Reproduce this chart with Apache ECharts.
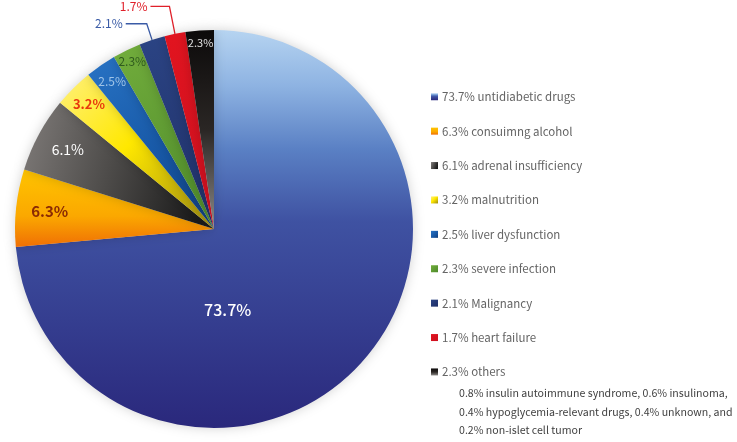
<!DOCTYPE html>
<html>
<head>
<meta charset="utf-8">
<script src="https://cdn.jsdelivr.net/npm/echarts@6/dist/echarts.min.js"></script>
<style>
html,body{margin:0;padding:0;background:#fff;}
#chart{width:737px;height:442px;}
</style>
</head>
<body>
<div id="chart"></div>
<script>
// ---- data ----
const causes = ['untidiabetic drugs','consuimng alcohol','adrenal insufficiency','malnutrition','liver dysfunction','severe infection','Malignancy','heart failure','others'];
const percents = [73.7, 6.3, 6.1, 3.2, 2.5, 2.3, 2.1, 1.7, 2.3];
const othersDetail = [
  '0.8% insulin autoimmune syndrome, 0.6% insulinoma,',
  '0.4% hypoglycemia-relevant drugs, 0.4% unknown, and',
  '0.2% non-islet cell tumor'
];

// ---- styles ----
const FONT = 'Noto Sans CJK JP';
function lg(x, y, x2, y2, stops) {
  return new echarts.graphic.LinearGradient(x, y, x2, y2, stops.map((c, i) => ({offset: c[0], color: c[1]})));
}
const sliceColors = [
  lg(0,0,0,1,[[0,'#b6d4f1'],[0.14,'#8eb3e2'],[0.3,'#5a80c4'],[0.48,'#3f52a2'],[1,'#2a287c']]),
  lg(0,0,0,1,[[0,'#ffc400'],[0.6,'#fba800'],[1,'#ef6f05']]),
  lg(0,0,1,0.4,[[0,'#807c7a'],[0.5,'#4e4c4a'],[1,'#1a1a1a']]),
  lg(0,0,1,1,[[0,'#fff07c'],[0.45,'#ffe800'],[1,'#9c8a10']]),
  lg(0,0,1,1,[[0,'#2873c4'],[0.6,'#1656a4'],[1,'#103c78']]),
  lg(0,0,1,1,[[0,'#72ad3c'],[1,'#4d8a2a']]),
  lg(0,0,1,1,[[0,'#2b4484'],[1,'#1f2f68']]),
  lg(0,0,1,1,[[0,'#e2141f'],[1,'#cc1020']]),
  lg(0,0,0,1,[[0,'#0c0a0a'],[0.5,'#2a2624'],[1,'#8c8a88']])
];
const labelColors = ['#ffffff','#8a2a04','#ffffff','#e8380d','#9fc4e8','#2f5a1e','#3a5ba6','#e0202a','#e0e0e0'];
const labelSizes = [16,15,14,13,12,12,12,12,11];
const labelWeights = ['500','bold','normal','bold','normal','normal','normal','normal','normal'];
const labelFrac = [null,0.83,0.835,0.89,0.90,0.935,null,null,0.937];
const labelShift = [[-62,12],null,null,null,null,null,null,null,null];
const outsideLine = [null,null,null,null,null,null,[17,21],[28,19],null];

const CX = 214, CY = 229, R = 199;

const chart = echarts.init(document.getElementById('chart'), null, {renderer:'canvas'});

const data = causes.map((c, i) => {
  const d = {
    name: c,
    value: percents[i],
    itemStyle: {color: sliceColors[i]},
    label: {
      color: labelColors[i],
      fontSize: labelSizes[i],
      fontWeight: labelWeights[i],
      fontFamily: FONT,
      position: outsideLine[i] ? 'outside' : 'inside'
    }
  };
  if (outsideLine[i]) {
    d.labelLine = {show: true, length: outsideLine[i][0], length2: outsideLine[i][1], smooth: false,
      lineStyle: {color: labelColors[i], width: 1.3}};
    d.label.distanceToLabelLine = 3;
  } else {
    d.labelLine = {show: false};
  }
  return d;
});

chart.setOption({
  animation: false,
  backgroundColor: '#ffffff',
  legend: {
    orient: 'vertical',
    left: 426,
    top: 86,
    icon: 'rect',
    itemWidth: 7,
    itemHeight: 7,
    itemGap: 22.9,
    textStyle: {fontSize: 11.5, color: '#646464', fontFamily: FONT, padding: [0,0,0,-1]},
    formatter: function (name) {
      const i = causes.indexOf(name);
      return percents[i] + '% ' + name;
    },
    data: causes
  },
  graphic: [{
    type: 'text',
    left: 459,
    top: 384,
    style: {
      text: othersDetail.join('\n'),
      font: '10.6px "' + FONT + '"',
      lineHeight: 18.5,
      fill: '#404040'
    }
  }],
  series: [{
    type: 'pie',
    center: [CX, CY],
    radius: [0, R],
    startAngle: 90,
    clockwise: true,
    avoidLabelOverlap: false,
    itemStyle: {borderWidth: 0, shadowBlur: 12, shadowColor: 'rgba(0,0,0,0.18)'},
    label: {show: true, formatter: p => p.value + '%'},
    emphasis: {disabled: true},
    data: data,
    labelLayout: function (params) {
      const i = params.dataIndex;
      const rect = params.labelRect;
      const lx = rect.x + rect.width / 2, ly = rect.y + rect.height / 2;
      if (labelShift[i]) return {dx: labelShift[i][0], dy: labelShift[i][1]};
      if (labelFrac[i] != null) {
        const vx = lx - CX, vy = ly - CY;
        const len = Math.sqrt(vx*vx + vy*vy) || 1;
        const tr = R * labelFrac[i];
        return {dx: vx/len*tr - vx, dy: vy/len*tr - vy};
      }
      return {};
    }
  }]
});
</script>
</body>
</html>
